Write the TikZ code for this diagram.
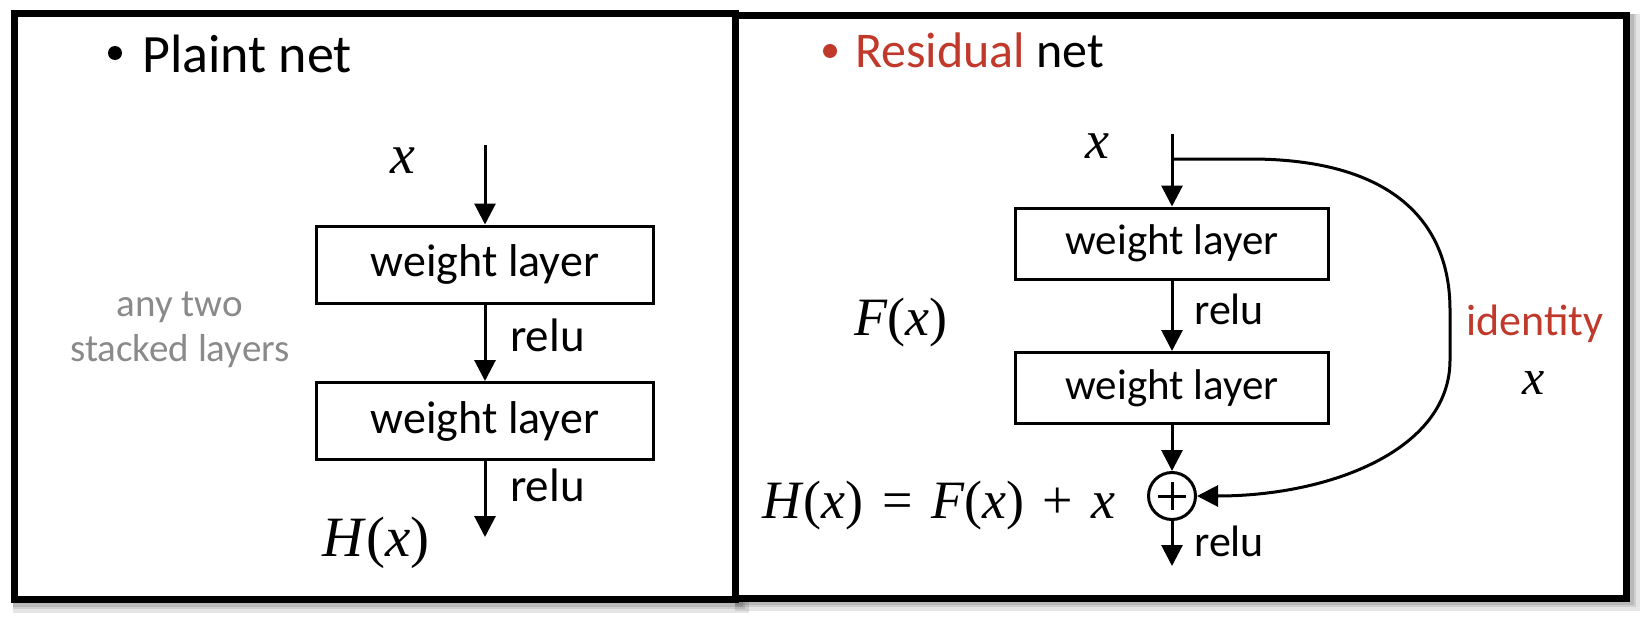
\documentclass[tikz,border=0pt]{standalone}
\usepackage{fontspec}
\setmainfont{Carlito}
\newfontfamily\mathfnt{Liberation Serif}
\usetikzlibrary{arrows.meta}
\definecolor{resred}{RGB}{192,57,43}
\definecolor{notegray}{RGB}{138,138,138}
\newcommand\myfs[1]{\fontsize{#1}{#1}\selectfont}
\newcommand\vi[1]{\textit{#1}}
\newcommand\opsp{\hspace{0.34em}}
\tikzset{
  frame/.style={line width=7pt},
  shadowline/.style={line width=#1, black, opacity=0.10},
  lbox/.style={draw, line width=3pt, minimum width=337pt, minimum height=77pt, inner sep=0pt, font=\myfs{46}},
  rbox/.style={draw, line width=3pt, minimum width=313pt, minimum height=71pt, inner sep=0pt, font=\myfs{43}},
  flow/.style={line width=3pt, -{Triangle[length=21pt,width=21pt]}},
  lbl/.style={inner sep=0pt, anchor=base west},
  mth/.style={inner sep=0pt, anchor=base},
  dot/.style={circle, fill=#1, inner sep=0pt, minimum size=14pt},
}
\begin{document}
\begin{tikzpicture}[x=1pt,y=-1pt]
\useasboundingbox (0,0) rectangle (1640,618);
% shadows
\foreach \o/\w in {6/14pt,4/10pt,3/8pt}{
  \draw[shadowline=\w] (14+\o,13.5+\o) rectangle (735.5+\o,599.5+\o);
  \draw[shadowline=\w] (735.5+\o,15.5+\o) rectangle (1626.5+\o,598+\o);
}
\fill[white] (17.5,17) rectangle (732,596);
\fill[white] (739,19) rectangle (1623,594.5);
% frames
\draw[frame] (735.5,15.5) rectangle (1626.5,598);
\draw[frame] (14,13.5) rectangle (735.5,599.5);

% ---------- left panel ----------
\node[dot=black] (lbul) at (115,53) {};
\node[lbl, font=\myfs{54}] (ltitle) at (142,73) {Plaint net};
\node[mth, font=\mathfnt\myfs{56}] (lx) at (403,173) {\vi{x}};
\node[lbox] (lb1) at (485,264.5) {weight layer};
\node[lbox] (lb2) at (485,421) {weight layer};
\coordinate (lin) at (485,145);
\coordinate (lout) at (485,537);
\draw[flow] (lin) -- (lb1.north);
\draw[flow] (lb1.south) -- (lb2.north);
\draw[flow] (lb2.south) -- (lout);
\node[lbl, font=\myfs{47}] (lr1) at (510,351) {relu};
\node[lbl, font=\myfs{47}] (lr2) at (510,501) {relu};
\node[mth, font=\mathfnt\myfs{57}] (lH) at (376,556) {\vi{H}(\vi{x})};
\node[mth, font=\myfs{39}, text=notegray] (lg1) at (180,316) {any two};
\node[mth, font=\myfs{39}, text=notegray] (lg2) at (180,361) {stacked layers};

% ---------- right panel ----------
\node[dot=resred] (rbul) at (830,51) {};
\node[lbl, font=\myfs{50}] (rtitle) at (855,67) {\textcolor{resred}{Residual} net};
\node[mth, font=\mathfnt\myfs{54}] (rx) at (1097,158) {\vi{x}};
\node[rbox] (rb1) at (1172,243.5) {weight layer};
\node[rbox] (rb2) at (1172,388) {weight layer};
\node[circle, draw, line width=3pt, minimum size=47pt, inner sep=0pt] (plus) at (1172,496) {};
\draw[line width=3pt] ([xshift=-14pt]plus.center) -- ([xshift=14pt]plus.center)
                      ([yshift=-14pt]plus.center) -- ([yshift=14pt]plus.center);
\coordinate (rin) at (1172,134);
\coordinate (rbr) at (1172,159);
\coordinate (rout) at (1172,566);
\draw[flow] (rin) -- (rb1.north);
\draw[flow] (rb1.south) -- (rb2.north);
\draw[flow] (rb2.south) -- (plus.north);
\draw[flow] (plus.south) -- (rout);
\draw[flow] (rbr) -- (1250,159) .. controls (1390,159) and (1450,220) .. (1450,310)
      -- (1450,360) .. controls (1450,450) and (1330,496) .. (plus.east);
\node[lbl, font=\myfs{44}] (rr1) at (1194,324) {relu};
\node[lbl, font=\myfs{44}] (rr2) at (1194,556) {relu};
\node[mth, font=\mathfnt\myfs{54}] (rF) at (901,335) {\vi{F}(\vi{x})};
\node[mth, font=\mathfnt\myfs{54}] (rH) at (939,518) {\vi{H}(\vi{x})\opsp=\opsp\vi{F}(\vi{x})\opsp+\opsp\vi{x}};
\node[lbl, font=\myfs{44}, text=resred] (rid) at (1466,335) {identity};
\node[mth, font=\mathfnt\myfs{50}] (rix) at (1534,394) {\vi{x}};
\end{tikzpicture}
\end{document}
